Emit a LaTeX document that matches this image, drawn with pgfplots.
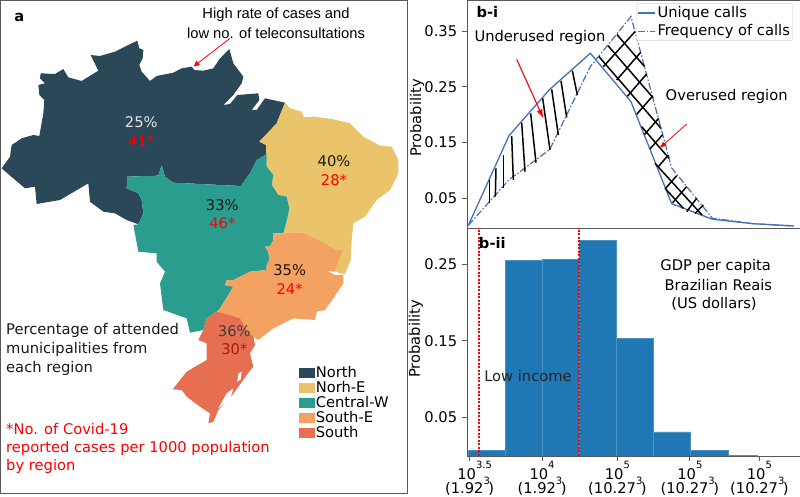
\documentclass[border=0pt]{standalone}
\usepackage{fontspec}
\setmainfont{DejaVu Sans}
\newfontfamily\arialf{Liberation Sans}
\usepackage{pgfplots}
\pgfplotsset{compat=1.18}
\usetikzlibrary{arrows.meta}
\definecolor{cN}{HTML}{2A4858}
\definecolor{cNE}{HTML}{E9C46A}
\definecolor{cCW}{HTML}{2A9D8F}
\definecolor{cSE}{HTML}{F4A261}
\definecolor{cS}{HTML}{E76F51}
\definecolor{barblue}{HTML}{1F77B4}
\definecolor{lineblue}{HTML}{4472B4}
\definecolor{spine}{gray}{0.35}
\newcommand\fs{\fontsize{14.7}{16}\selectfont}
\newcommand\up[2]{\smash{\raisebox{#2}{\fontsize{10}{10}\selectfont #1}}}
\tikzset{
  hatch/.style={black,line width=1.5pt},
  txt/.style={font=\fs,anchor=center,inner sep=0pt},
  ltxt/.style={font=\fs,anchor=west,inner sep=0pt}
}
\pgfplotsset{
  canvasaxis/.style={scale only axis,width=400pt,height=497pt,xmin=0,xmax=1200,ymin=0,ymax=1491,y dir=reverse,hide axis,clip=false},
  panel/.style={scale only axis,width=333.3pt,
    axis line style={spine,-},tick style={spine,line width=0.8pt},tick align=outside,
    major tick length=5pt,
    ticklabel style={font=\fs},
    /pgf/number format/assume math mode=true,
    /pgf/number format/fixed,/pgf/number format/fixed zerofill,/pgf/number format/precision=2,
    yticklabel style={xshift=-1pt}}
}
\begin{document}
\begin{tikzpicture}
\useasboundingbox (0,0) rectangle (800pt,497pt);
% frame of panel a
\draw[spine,line width=1pt] (0.5pt,496.5pt) -- (0.5pt,3.5pt) -- (407pt,3.5pt) -- (407pt,496.5pt) -- cycle;

% ---------- map ----------
\begin{axis}[canvasaxis,at={(0pt,0pt)},
  legend style={at={(axis cs:897,1098)},anchor=north west,draw=none,fill=none,font=\fs,inner sep=0pt,row sep=1.1pt,
     nodes={inner sep=0.6pt}},
  legend cell align=left,
  legend image code/.code={\fill[#1] (0pt,-5.3pt) rectangle (16pt,5.3pt);}]
\addplot[fill=cN,draw=none] coordinates {(5,505)(30,470)(35,435)(65,415)(100,405)(118,408)(130,340)(133,300)(118,285)(115,255)(135,250)(120,235)(122,220)(165,222)(190,207)(205,232)(245,243)(295,212)(272,165)(300,168)(345,155)(385,135)(412,122)(418,145)(430,150)(428,175)(418,195)(425,215)(450,243)(470,228)(520,218)(545,205)(575,200)(583,210)(610,212)(640,205)(660,175)(688,147)(700,190)(730,230)(725,250)(700,285)(670,315)(690,312)(712,285)(775,280)(778,300)(755,330)(770,330)(795,295)(855,308)(830,370)(778,425)(798,435)(800,462)(770,480)(750,520)(722,558)(520,548)(495,530)(485,495)(475,527)(382,530)(380,565)(415,580)(425,600)(430,640)(415,673)(380,660)(345,640)(310,635)(270,605)(265,550)(180,600)(110,612)(105,560)(75,565)(40,535)} --cycle;
\addlegendentry{North}
\addplot[fill=cNE,draw=none] coordinates {(855,308)(870,325)(905,335)(912,352)(945,350)(1000,358)(1050,370)(1090,410)(1140,437)(1175,440)(1195,480)(1195,520)(1170,570)(1130,600)(1095,650)(1060,670)(1055,720)(1052,780)(1035,823)(1005,815)(1015,785)(1030,750)(1010,750)(955,720)(905,697)(850,700)(862,655)(868,625)(860,590)(835,585)(815,555)(820,525)(800,500)(798,435)(778,425)(830,370)} --cycle;
\addlegendentry{Norh-E}
\addplot[fill=cCW,draw=none] coordinates {(382,530)(475,527)(485,495)(495,530)(520,548)(722,558)(750,520)(770,480)(800,462)(800,500)(820,525)(815,555)(835,585)(860,590)(868,625)(862,655)(850,700)(820,700)(820,720)(810,740)(795,740)(805,755)(808,780)(800,795)(800,810)(750,815)(700,840)(680,840)(675,855)(700,860)(685,885)(660,925)(650,935)(620,955)(610,990)(570,998)(560,955)(490,930)(480,850)(495,815)(470,785)(470,760)(415,755)(400,675)(415,673)(430,640)(425,600)(415,580)(380,565)} --cycle;
\addlegendentry{Central-W}
\addplot[fill=cSE,draw=none] coordinates {(850,700)(905,697)(955,720)(1010,750)(1030,750)(1015,785)(1005,815)(980,812)(1005,825)(1030,825)(1030,850)(1000,895)(975,930)(950,935)(945,960)(880,955)(820,985)(775,1020)(760,1010)(740,990)(720,955)(690,945)(650,935)(660,925)(685,885)(700,860)(675,855)(680,840)(700,840)(750,815)(800,810)(800,795)(808,780)(805,755)(795,740)(810,740)(820,720)(820,700)} --cycle;
\addlegendentry{South-E}
\addplot[fill=cS,draw=none] coordinates {(650,935)(690,945)(720,955)(740,990)(760,1010)(765,1035)(750,1060)(760,1100)(740,1125)(715,1160)(690,1195)(655,1230)(640,1265)(625,1270)(630,1240)(600,1220)(560,1190)(545,1170)(518,1168)(560,1115)(620,1080)(620,1030)(595,1020)(610,990)(620,955)} --cycle;
\addlegendentry{South}
\addplot[fill=white,draw=none,forget plot] coordinates {(655,1225)(680,1180)(700,1165)(690,1200)} --cycle;
\addplot[fill=white,draw=none,forget plot] coordinates {(715,1122)(725,1115)(722,1138)(712,1145)} --cycle;
\addplot[-{Latex[length=6pt,width=6pt]},red,line width=0.8pt,forget plot] coordinates {(690,115)(580,200)};
\node[font=\bfseries\fs,inner sep=0pt] at (axis cs:58,52) {a};
\node[txt,font=\arialf\fs] at (axis cs:828,45) {High rate of cases and};
\node[txt,font=\arialf\fs] at (axis cs:828,100) {low no. of teleconsultations};
\node[txt,text=white!90!black] at (axis cs:424,366) {25\%};
\node[txt,text=red] at (axis cs:424,423) {41*};
\node[txt,text=black!90] at (axis cs:1002,484) {40\%};
\node[txt,text=red] at (axis cs:1002,540) {28*};
\node[txt,text=black!90] at (axis cs:667,615) {33\%};
\node[txt,text=red] at (axis cs:667,670) {46*};
\node[txt,text=black!90] at (axis cs:869,810) {35\%};
\node[txt,text=red] at (axis cs:869,867) {24*};
\node[txt,text=black!75] at (axis cs:703,992) {36\%};
\node[txt,text=red!60!black,opacity=0.75] at (axis cs:703,1048) {30*};
\node[ltxt,text=black!90] at (axis cs:18,992) {Percentage of attended};
\node[ltxt,text=black!90] at (axis cs:18,1048) {municipalities from};
\node[ltxt,text=black!90] at (axis cs:18,1105) {each region};
\node[ltxt,text=red] at (axis cs:18,1288) {*No. of Covid-19};
\node[ltxt,text=red] at (axis cs:18,1344) {reported cases per 1000 population};
\node[ltxt,text=red] at (axis cs:18,1400) {by region};
\end{axis}

% ---------- b-i ----------
\begin{axis}[panel,at={(466.7pt,269pt)},height=228pt,
  xmin=-0.04,xmax=8.156,ymin=-0.0037,ymax=0.4056,
  ytick={0.05,0.15,0.25,0.35},xtick=\empty,
  ylabel={Probability},
  every axis y label/.style={at={(axis description cs:-0.149,0.482)},rotate=90,anchor=center,font=\fs},
  legend style={at={(axis description cs:0.508,0.985)},anchor=north west,draw=gray!35,font=\fs,
    fill=white,fill opacity=0.8,text opacity=1,inner sep=1pt,row sep=1.5pt,rounded corners=1pt},
  legend cell align=left,
  legend image code/.code={\draw[#1] (0pt,0pt) -- (17pt,0pt);}]
\addplot[lineblue,line width=1.3pt] coordinates {(0,0.001)(1,0.162)(2,0.245)(3,0.310)(4,0.223)(5,0.040)(6,0.012)(7,0.004)(8,0.000)};
\addlegendentry{Unique calls}
\addplot[lineblue,line width=1.2pt,dash pattern=on 7pt off 2pt on 1.5pt off 2pt] coordinates {(0,0.001)(1,0.083)(2,0.137)(3,0.286)(4,0.376)(5,0.104)(6,0.014)(7,0.004)(8,0.000)};
\addlegendentry{Frequency of calls}
\end{axis}

% ---------- b-ii ----------
\begin{axis}[panel,at={(466.7pt,41pt)},height=228pt,
  xmin=3.48,xmax=5.78,ymin=0,ymax=0.297,
  axis x line*=bottom,axis y line*=left,
  ytick={0.05,0.15,0.25},
  xtick={3.5,4,4.52,5.02,5.5},
  xticklabels={
    {\hspace*{10pt}10\up{3.5}{11pt}\\(1.92\up{3}{9pt}\hspace{-1.5pt})},
    {10\up{4}{11pt}\\(1.92\up{3}{9pt}\hspace{-1.5pt})},
    {10\up{5}{11pt}\\(10.27\up{3}{9pt}\hspace{-1.5pt})},
    {10\up{5}{11pt}\\(10.27\up{3}{9pt}\hspace{-1.5pt})},
    {10\up{5}{11pt}\\(10.27\up{3}{9pt}\hspace{-1.5pt})}},
  xticklabel style={align=center,inner sep=0pt,font=\fontsize{14.7}{14}\selectfont,yshift=-7pt},
  ylabel={Probability},
  every axis y label/.style={at={(axis description cs:-0.153,0.513)},rotate=90,anchor=center,font=\fs}]
\addplot[ybar interval,fill=barblue,draw=barblue!80!white,line width=0.6pt] coordinates {(3.489,0.0078)(3.746,0.2543)(4.003,0.2557)(4.256,0.2813)(4.511,0.1535)(4.768,0.0313)(5.026,0.0070)(5.283,0.0013)(5.485,0)};
\addplot[red,line width=1.3pt,dash pattern=on 2pt off 1.5pt] coordinates {(3.564,0)(3.564,0.297)};
\addplot[red,line width=1.3pt,dash pattern=on 2pt off 1.5pt] coordinates {(4.254,0)(4.254,0.297)};
\end{axis}

% ---------- annotations over panel b ----------
\begin{axis}[canvasaxis,at={(400pt,0pt)}]
% under-used hatch
\addplot[hatch] coordinates {(268,540)(268,610)};
\addplot[hatch] coordinates {(288,505)(286,590)};
\addplot[hatch] coordinates {(310,465)(310,565)};
\addplot[hatch] coordinates {(335,408)(340,540)};
\addplot[hatch] coordinates {(365,368)(375,515)};
\addplot[hatch] coordinates {(392,340)(408,488)};
\addplot[hatch] coordinates {(428,295)(450,450)};
\addplot[hatch] coordinates {(455,268)(475,405)};
\addplot[hatch] coordinates {(483,243)(500,352)};
\addplot[hatch] coordinates {(517,212)(532,285)};
% over-used cross hatch
\addplot[hatch] coordinates {(651,104)(734,200)};
\addplot[hatch] coordinates {(624,137)(759,293)};
\addplot[hatch] coordinates {(597,170)(783,385)};
\addplot[hatch] coordinates {(725,380)(807,475)};
\addplot[hatch] coordinates {(765,490)(906,645)};
\addplot[hatch] coordinates {(795,565)(850,625)};
\addplot[hatch] coordinates {(610,200)(705,95)};
\addplot[hatch] coordinates {(650,240)(722,157)};
\addplot[hatch] coordinates {(682,289)(740,222)};
\addplot[hatch] coordinates {(710,343)(758,288)};
\addplot[hatch] coordinates {(733,404)(776,355)};
\addplot[hatch] coordinates {(750,447)(788,404)};
\addplot[hatch] coordinates {(775,500)(805,465)};
\addplot[hatch] coordinates {(797,565)(830,527)};
\addplot[hatch] coordinates {(818,608)(860,560)};
\addplot[hatch] coordinates {(860,635)(890,595)};
\addplot[hatch] coordinates {(885,640)(910,615)};
% arrows
\addplot[-{Latex[length=9pt,width=6pt]},red,line width=1.1pt,forget plot] coordinates {(350,178)(430,355)};
\addplot[-{Latex[length=7pt,width=5pt]},red,line width=0.8pt,forget plot] coordinates {(860,372)(778,445)};
% text
\node[font=\bfseries\fs,inner sep=0pt] at (axis cs:262,37) {b-i};
\node[txt] at (axis cs:420,112) {Underused region};
\node[txt] at (axis cs:980,288) {Overused region};
\node[font=\bfseries\fs,inner sep=0pt] at (axis cs:277,728) {b-ii};
\node[txt] at (axis cs:947,800) {GDP per capita};
\node[txt] at (axis cs:955,855) {Brazilian Reais};
\node[txt] at (axis cs:942,912) {(US dollars)};
\node[txt,text=black!85] at (axis cs:384,1128) {Low income};
\end{axis}
\end{tikzpicture}
\end{document}
